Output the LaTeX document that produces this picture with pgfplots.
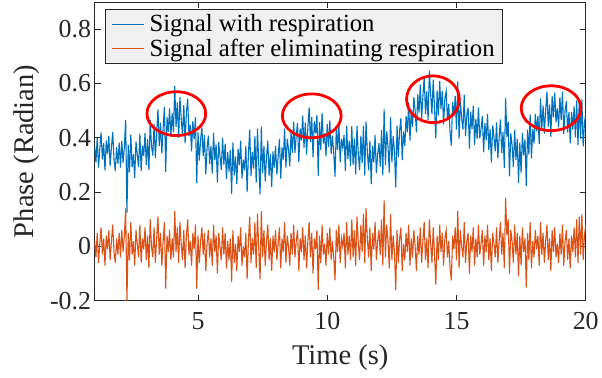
\documentclass[border=0pt]{standalone}
\usepackage{fontspec}
\setmainfont{Liberation Serif}
\usepackage{pgfplots}
\usepackage{pgfplotstable}
\pgfplotsset{compat=1.18}
\definecolor{mblue}{rgb}{0,0.447,0.741}
\definecolor{morange}{rgb}{0.850,0.325,0.098}
\definecolor{axgray}{HTML}{262626}
\definecolor{leggray}{HTML}{F0F0F0}
\pgfplotstableread{
t b o
1.00 .37 .02
1.05 .31 -.04
1.10 .40 .05
1.15 .29 -.06
1.20 .36 .01
1.25 .42 .07
1.30 .32 -.03
1.35 .38 .03
1.40 .28 -.07
1.45 .39 .04
1.50 .340 -.01
1.55 .408 .06
1.60 .296 -.05
1.65 .364 .02
1.70 .422 .08
1.75 .320 -.02
1.80 .278 -.06
1.85 .366 .03
1.90 .304 -.03
1.95 .382 .05
2.00 .290 -.04
2.05 .389 .06
2.10 .308 -.02
2.15 .367 .04
2.20 .466 .14
2.25 .125 -.20
2.30 .374 .05
2.35 .273 -.05
2.40 .412 .09
2.45 .291 -.03
2.50 .340 .02
2.55 .253 -.07
2.60 .386 .06
2.65 .339 .01
2.70 .292 -.04
2.75 .415 .08
2.80 .278 -.06
2.85 .371 .03
2.90 .334 -.01
2.95 .417 .07
3.00 .300 -.05
3.05 .395 .04
3.10 .280 -.08
3.15 .465 .10
3.20 .370 .00
3.25 .335 -.04
3.30 .450 .07
3.35 .325 -.06
3.40 .420 .03
3.45 .505 .11
3.50 .370 -.03
3.55 .456 .05
3.60 .342 -.07
3.65 .438 .02
3.70 .514 .09
3.75 .275 -.155
3.80 .476 .04
3.85 .422 -.02
3.90 .508 .06
3.95 .404 -.05
4.00 .490 .03
4.05 .420 -.04
4.10 .590 .13
4.15 .440 -.02
4.20 .530 .07
4.25 .400 -.06
4.30 .550 .09
4.35 .470 .01
4.40 .410 -.05
4.45 .520 .06
4.50 .380 -.08
4.55 .492 .04
4.60 .544 .10
4.65 .406 -.03
4.70 .448 .02
4.75 .350 -.07
4.80 .462 .05
4.85 .394 -.01
4.90 .476 .08
4.95 .233 -.155
5.00 .420 .04
5.05 .316 -.06
5.10 .392 .02
5.15 .438 .07
5.20 .334 -.03
5.25 .410 .05
5.30 .266 -.09
5.35 .362 .01
5.40 .408 .06
5.45 .304 -.04
5.50 .370 .03
5.55 .269 -.07
5.60 .418 .08
5.65 .317 -.02
5.70 .376 .04
5.75 .235 -.10
5.80 .384 .05
5.85 .333 .00
5.90 .282 -.05
5.95 .401 .07
6.00 .300 -.03
6.05 .379 .05
6.10 .248 -.08
6.15 .347 .02
6.20 .276 -.05
6.25 .355 .03
6.30 .194 -.13
6.35 .383 .06
6.40 .262 -.06
6.45 .331 .01
6.50 .230 -.09
6.55 .360 .04
6.60 .300 -.02
6.65 .390 .07
6.70 .250 -.07
6.75 .320 .00
6.80 .280 -.04
6.85 .370 .05
6.90 .200 -.12
6.95 .340 .02
7.00 .430 .11
7.05 .259 -.06
7.10 .348 .03
7.15 .287 -.03
7.20 .406 .09
7.25 .235 -.08
7.30 .434 .12
7.35 .303 -.01
7.40 .192 -.12
7.45 .441 .13
7.50 .270 -.04
7.55 .370 .06
7.60 .240 -.07
7.65 .330 .02
7.70 .390 .08
7.75 .260 -.05
7.80 .340 .03
7.85 .220 -.09
7.90 .350 .04
7.95 .290 -.02
8.00 .370 .06
8.05 .265 -.05
8.10 .330 .01
8.15 .395 .07
8.20 .250 -.08
8.25 .365 .03
8.30 .320 -.02
8.35 .435 .09
8.40 .290 -.06
8.45 .395 .04
8.50 .360 .00
8.55 .295 -.07
8.60 .420 .05
8.65 .345 -.03
8.70 .460 .08
8.75 .345 -.04
8.80 .410 .02
8.85 .455 .06
8.90 .310 -.09
8.95 .435 .03
9.00 .390 -.02
9.05 .482 .07
9.10 .364 -.05
9.15 .456 .04
9.20 .338 -.08
9.25 .440 .02
9.30 .512 .09
9.35 .384 -.04
9.40 .476 .05
9.45 .328 -.10
9.50 .460 .03
9.55 .417 -.01
9.60 .484 .06
9.65 .261 -.16
9.70 .458 .04
9.75 .355 -.06
9.80 .492 .08
9.85 .379 -.03
9.90 .416 .01
9.95 .333 -.07
10.00 .450 .05
10.05 .367 -.03
10.10 .464 .07
10.15 .341 -.05
10.20 .408 .02
10.25 .345 -.04
10.30 .257 -.125
10.35 .439 .06
10.40 .356 -.02
10.45 .453 .08
10.50 .310 -.06
10.55 .397 .03
10.60 .364 .00
10.65 .411 .05
10.70 .278 -.08
10.75 .445 .09
10.80 .322 -.03
10.85 .389 .04
10.90 .296 -.05
10.95 .443 .10
11.00 .300 -.04
11.05 .398 .06
11.10 .266 -.07
11.15 .444 .11
11.20 .342 .01
11.25 .280 -.05
11.30 .408 .08
11.35 .306 -.02
11.40 .444 .12
11.45 .262 -.06
11.50 .460 .14
11.55 .350 .03
11.60 .280 -.04
11.65 .390 .07
11.70 .230 -.09
11.75 .370 .05
11.80 .310 -.01
11.85 .410 .09
11.90 .270 -.05
11.95 .340 .02
12.00 .380 .06
12.05 .294 -.03
12.10 .428 .10
12.15 .262 -.07
12.20 .506 .17
12.25 .300 -.04
12.30 .424 .08
12.35 .368 .02
12.40 .272 -.08
12.45 .476 .12
12.50 .310 -.05
12.55 .406 .04
12.60 .352 -.02
12.65 .218 -.16
12.70 .444 .06
12.75 .330 -.06
12.80 .426 .03
12.85 .472 .07
12.90 .318 -.09
12.95 .424 .01
13.00 .370 -.05
13.05 .480 .05
13.10 .420 -.02
13.15 .530 .08
13.20 .390 -.07
13.25 .500 .03
13.30 .440 -.04
13.35 .550 .06
13.40 .500 .00
13.45 .420 -.09
13.50 .560 .04
13.55 .493 -.03
13.60 .596 .07
13.65 .469 -.06
13.70 .552 .02
13.75 .625 .09
13.80 .488 -.05
13.85 .571 .03
13.90 .464 -.08
13.95 .647 .10
14.00 .560 .01
14.05 .487 -.06
14.10 .614 .07
14.15 .511 -.03
14.20 .398 -.14
14.25 .575 .04
14.30 .482 -.05
14.35 .609 .08
14.40 .506 -.02
14.45 .573 .05
14.50 .450 -.07
14.55 .546 .03
14.60 .572 .06
14.65 .468 -.04
14.70 .524 .02
14.75 .420 -.08
14.80 .371 -.125
14.85 .532 .04
14.90 .478 -.01
14.95 .554 .07
15.00 .430 -.05
15.05 .608 .13
15.10 .396 -.08
15.15 .534 .06
15.20 .472 .00
15.25 .430 -.04
15.30 .558 .09
15.35 .406 -.06
15.40 .484 .02
15.45 .512 .05
15.50 .360 -.10
15.55 .496 .04
15.60 .432 -.02
15.65 .518 .07
15.70 .374 -.07
15.75 .470 .03
15.80 .396 -.04
15.85 .512 .08
15.90 .398 -.03
15.95 .434 .01
16.00 .480 .06
16.05 .347 -.07
16.10 .454 .04
16.15 .391 -.02
16.20 .488 .08
16.25 .355 -.05
16.30 .432 .03
16.35 .309 -.09
16.40 .446 .05
16.45 .403 .01
16.50 .350 -.04
16.55 .457 .07
16.60 .324 -.06
16.65 .401 .02
16.70 .468 .09
16.75 .345 -.03
16.80 .422 .05
16.85 .289 -.08
16.90 .546 .18
16.95 .403 .04
17.00 .460 .10
17.05 .258 -.10
17.10 .416 .06
17.15 .374 .02
17.20 .292 -.06
17.25 .430 .08
17.30 .318 -.03
17.35 .396 .05
17.40 .234 -.11
17.45 .382 .04
17.50 .270 -.07
17.55 .418 .07
17.60 .336 -.02
17.65 .394 .03
17.70 .222 -.15
17.75 .430 .05
17.80 .338 -.05
17.85 .486 .09
17.90 .324 -.08
17.95 .432 .02
18.00 .380 -.04
18.05 .487 .06
18.10 .424 -.01
18.15 .481 .04
18.20 .378 -.07
18.25 .545 .09
18.30 .432 -.03
18.35 .519 .05
18.40 .416 -.06
18.45 .503 .02
18.50 .570 .08
18.55 .441 -.05
18.60 .522 .03
18.65 .403 -.09
18.70 .554 .06
18.75 .475 -.02
18.80 .566 .07
18.85 .457 -.04
18.90 .508 .01
18.95 .439 -.06
19.00 .550 .05
19.05 .465 -.03
19.10 .570 .08
19.15 .415 -.07
19.20 .500 .02
19.25 .535 .06
19.30 .420 -.05
19.35 .495 .03
19.40 .380 -.08
19.45 .495 .04
19.50 .430 -.02
19.55 .516 .07
19.60 .402 -.04
19.65 .538 .10
19.70 .374 -.06
19.75 .540 .11
19.80 .396 -.03
19.85 .542 .12
19.90 .368 -.05
19.95 .454 .04
20.00 .490 .08
}\data
\begin{document}
\begin{tikzpicture}
\begin{axis}[
  scale only axis, width=493pt, height=300pt,
  xmin=1, xmax=20, ymin=-0.2, ymax=0.9,
  xtick={5,10,15,20},
  ytick={-0.2,0,0.2,0.4,0.6,0.8},
  yticklabels={-0.2,0,0.2,0.4,0.6,0.8},
  xticklabels={5,10,15,20},
  tick align=inside, xtick pos=both, ytick pos=both,
  xticklabel pos=lower, yticklabel pos=left,
  major tick length=6pt,
  axis line style={axgray, line width=0.8pt},
  tick style={axgray, line width=0.8pt},
  ticklabel style={font=\fontsize{26}{30}\selectfont, text=axgray},
  xticklabel style={yshift=-8pt},
  label style={font=\fontsize{28.6}{33}\selectfont, text=axgray},
  xlabel={Time (s)}, ylabel={Phase (Radian)},
  xlabel style={at={(axis description cs:0.5,-0.19)}, anchor=center},
  ylabel style={at={(axis description cs:-0.138,0.5)}, anchor=center, rotate=0},
  legend cell align=left,
  legend style={at={(axis description cs:0,1)}, anchor=north west,
    xshift=10pt, yshift=-7pt, fill=leggray, draw=axgray, line width=0.8pt,
    font=\fontsize{24.8}{28}\selectfont, inner xsep=6pt, inner ysep=4pt,
    row sep=3pt, column sep=3pt, nodes={inner sep=1.5pt}},
  legend image code/.code={\draw[#1, line width=1.2pt] (0pt,0pt) -- (33pt,0pt);},
]
\addplot[mblue, line width=1.1pt] table[x=t, y=b]{\data};
\addlegendentry{Signal with respiration}
\addplot[morange, line width=1.1pt] table[x=t, y=o]{\data};
\addlegendentry{Signal after eliminating respiration}
\draw[red, line width=2.8pt] (axis cs:4.16,0.489) ellipse [x radius=29.5pt, y radius=22pt];
\draw[red, line width=2.8pt] (axis cs:9.40,0.481) ellipse [x radius=29.5pt, y radius=22pt];
\draw[red, line width=2.8pt] (axis cs:14.09,0.542) ellipse [x radius=26.5pt, y radius=23.5pt];
\draw[red, line width=2.8pt] (axis cs:18.66,0.509) ellipse [x radius=30pt, y radius=22.5pt];
\end{axis}
\path ([xshift=-95pt,yshift=-77pt]current axis.south west) rectangle ([xshift=14pt,yshift=2pt]current axis.north east);
\end{tikzpicture}
\end{document}
